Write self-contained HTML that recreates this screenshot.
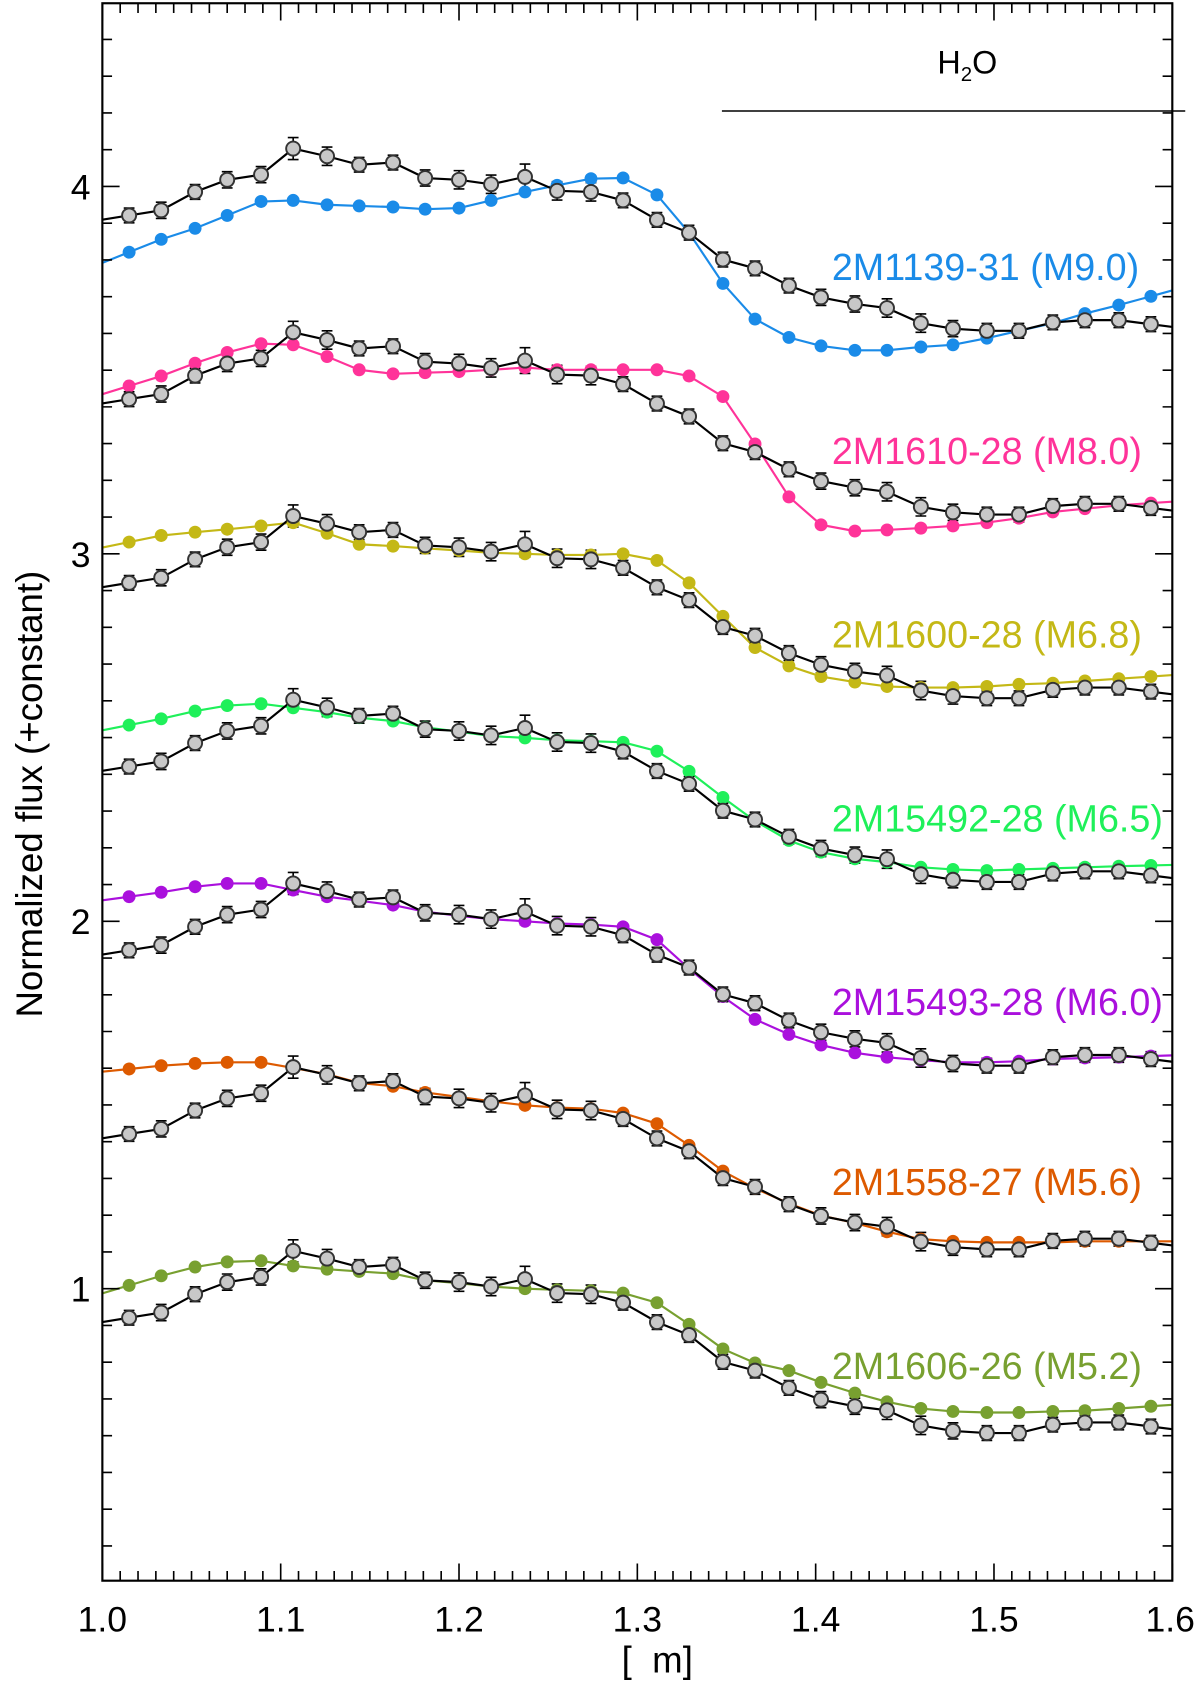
<!DOCTYPE html>
<html><head><meta charset="utf-8">
<style>
html,body{margin:0;padding:0;background:#fff;}
svg{display:block;font-family:"Liberation Sans",Arial,sans-serif;}
</style></head>
<body>
<svg id="chart" width="1200" height="1689" viewBox="0 0 1113.7 1567.5">
<g id="plot"></g>
</svg>
<script>
const wavelengths = [1.015,1.033,1.052,1.070,1.089,1.107,1.126,1.144,1.163,1.181,1.200,1.218,1.237,1.255,1.274,1.292,1.311,1.329,1.348,1.366,1.385,1.403,1.422,1.440,1.459,1.477,1.496,1.514,1.533,1.551,1.570,1.588];
const templateFlux = [3.921,3.935,3.985,4.018,4.032,4.103,4.082,4.059,4.065,4.023,4.018,4.006,4.026,3.988,3.985,3.962,3.909,3.874,3.801,3.777,3.730,3.698,3.680,3.669,3.628,3.613,3.607,3.607,3.630,3.636,3.636,3.625];
const templateErr = [0.02,0.022,0.02,0.022,0.022,0.03,0.025,0.02,0.02,0.022,0.025,0.025,0.035,0.025,0.025,0.02,0.02,0.02,0.02,0.02,0.02,0.022,0.022,0.025,0.025,0.022,0.02,0.02,0.02,0.02,0.02,0.02];
const templateOffsets = [0,0.5,1.0,1.5,2.0,2.5,3.0];
const names = ["2M1139-31 (M9.0)","2M1610-28 (M8.0)","2M1600-28 (M6.8)","2M15492-28 (M6.5)","2M15493-28 (M6.0)","2M1558-27 (M5.6)","2M1606-26 (M5.2)"];
const colors = ["#1a8be8","#ff3399","#c4b816","#1ff05a","#aa10dd","#dd5a00","#78a030"];
const labelValues = [3.78,3.28,2.78,2.28,1.78,1.29,0.79];
const fluxM90 = [3.821,3.856,3.886,3.921,3.959,3.962,3.950,3.947,3.944,3.938,3.941,3.962,3.985,4.003,4.021,4.023,3.977,3.874,3.736,3.639,3.589,3.566,3.554,3.554,3.563,3.569,3.587,3.607,3.628,3.654,3.677,3.701];
const fluxM80 = [3.457,3.484,3.519,3.548,3.572,3.569,3.537,3.501,3.490,3.493,3.496,3.501,3.507,3.501,3.501,3.501,3.501,3.484,3.428,3.299,3.155,3.079,3.062,3.065,3.070,3.076,3.085,3.097,3.114,3.123,3.132,3.138];
const fluxM68 = [3.032,3.050,3.059,3.067,3.076,3.085,3.056,3.026,3.021,3.015,3.009,3.003,3.000,2.997,2.997,3.000,2.982,2.921,2.830,2.745,2.695,2.666,2.651,2.639,2.636,2.636,2.639,2.645,2.648,2.654,2.660,2.666];
const fluxM65 = [2.534,2.551,2.572,2.587,2.592,2.581,2.569,2.554,2.545,2.528,2.516,2.504,2.499,2.493,2.490,2.487,2.463,2.408,2.337,2.273,2.220,2.188,2.170,2.161,2.147,2.141,2.138,2.141,2.144,2.147,2.150,2.152];
const fluxM60 = [2.067,2.079,2.094,2.103,2.103,2.085,2.067,2.056,2.044,2.026,2.015,2.006,2.000,1.994,1.991,1.985,1.950,1.871,1.795,1.733,1.692,1.663,1.642,1.630,1.622,1.616,1.616,1.619,1.625,1.628,1.630,1.633];
const fluxM56 = [1.598,1.607,1.613,1.616,1.616,1.601,1.584,1.560,1.551,1.534,1.522,1.510,1.499,1.493,1.490,1.478,1.449,1.390,1.320,1.273,1.232,1.199,1.179,1.155,1.135,1.129,1.126,1.126,1.126,1.129,1.129,1.129];
const fluxM52 = [1.009,1.035,1.059,1.073,1.076,1.062,1.053,1.047,1.041,1.023,1.015,1.006,1.000,0.997,0.994,0.988,0.962,0.903,0.836,0.798,0.777,0.745,0.716,0.692,0.674,0.666,0.663,0.663,0.666,0.668,0.674,0.680];
const yTicks = [1,2,3,4];
const xTicks = [1.0,1.1,1.2,1.3,1.4,1.5,1.6];

const X0=95,X1=1088,Y0=3,Y1=1467;
const xmin=1.0,xmax=1.6;
const sx=v=>X0+(v-xmin)/(xmax-xmin)*(X1-X0);
const sy=v=>1537-v*341;
const NS="http://www.w3.org/2000/svg";
const svg=document.getElementById('chart');
const plot=document.getElementById('plot');
function mk(tag,attrs,parent){const e=document.createElementNS(NS,tag);for(const k in attrs)e.setAttribute(k,attrs[k]);(parent||svg).appendChild(e);return e;}

const defs=mk('defs',{});
const cp=mk('clipPath',{id:'clip'},defs);
mk('rect',{x:X0,y:Y0,width:X1-X0,height:Y1-Y0},cp);
plot.setAttribute('clip-path','url(#clip)');

function pathFor(vals){
  const n=vals.length;
  const s0=(vals[1]-vals[0])/(wavelengths[1]-wavelengths[0]);
  const s1=(vals[n-1]-vals[n-2])/(wavelengths[n-1]-wavelengths[n-2]);
  let d='M'+sx(xmin)+','+sy(vals[0]+s0*(xmin-wavelengths[0]));
  for(let i=0;i<n;i++) d+=' L'+sx(wavelengths[i]).toFixed(1)+','+sy(vals[i]).toFixed(1);
  d+=' L'+sx(xmax)+','+sy(vals[n-1]+s1*(xmax-wavelengths[n-1]));
  return d;
}
const series=[fluxM90,fluxM80,fluxM68,fluxM65,fluxM60,fluxM56,fluxM52];
series.forEach((vals,k)=>{
  const g=mk('g',{},plot);
  
  
  const off=templateOffsets[k];
  const tv=templateFlux.map(v=>v-off);
  const cl=mk('path',{d:pathFor(vals),fill:'none',stroke:colors[k],'stroke-width':2},g);
  
  
  const tl=mk('path',{d:pathFor(tv),fill:'none',stroke:'#000','stroke-width':2},g);
  
  
  tv.forEach((v,i)=>{
    const x=sx(wavelengths[i]),e=templateErr[i];
    const eb=mk('path',{d:`M${x},${sy(v+e)} V${sy(v-e)} M${x-5},${sy(v+e)} H${x+5} M${x-5},${sy(v-e)} H${x+5}`,stroke:'#000','stroke-width':1.5,fill:'none'},g);
    
    
  });
  vals.forEach((v,i)=>{
    const c=mk('circle',{cx:sx(wavelengths[i]),cy:sy(v),r:6,fill:colors[k]},g);
    
    
  });
  tv.forEach((v,i)=>{
    const c=mk('circle',{cx:sx(wavelengths[i]),cy:sy(v),r:6.5,fill:'#c8c8c8',stroke:'#333','stroke-width':1.8},g);
    
    
  });
  const t=mk('text',{x:772,y:sy(labelValues[k])+12,'font-size':35,fill:colors[k]},g);
  t.textContent=names[k];
  
  
});

const box=mk('rect',{x:X0,y:Y0,width:X1-X0,height:Y1-Y0,fill:'none',stroke:'#000','stroke-width':2});


let td='';
for(let i=0;i<=60;i++){
  const x=sx(xmin+i*0.01),L=(i%10===0)?16:9;
  td+=`M${x},${Y1} V${Y1-L} M${x},${Y0} V${Y0+L} `;
}
for(let i=3;i<=45;i++){
  const v=i*0.1;const y=sy(v);
  if(y<Y0||y>Y1)continue;
  const L=(i%10===0)?16:9;
  td+=`M${X0},${y} H${X0+L} M${X1},${y} H${X1-L} `;
}
const ticks=mk('path',{d:td,stroke:'#000','stroke-width':1.5,fill:'none'});


yTicks.forEach(v=>{
  const t=mk('text',{x:84,y:sy(v)+12,'font-size':33,'text-anchor':'end'});
  t.textContent=String(v);
  
  
});
xTicks.forEach(v=>{
  const t=mk('text',{x:sx(v)+(v===1.6?-2:0),y:1514,'font-size':33,'text-anchor':'middle'});
  t.textContent=v.toFixed(1);
  
  
});
const xt=mk('text',{x:610,y:1552,'font-size':34,'text-anchor':'middle'});
xt.textContent='[  m]';xt.style.whiteSpace='pre';


const yt=mk('text',{x:0,y:0,'font-size':34,'text-anchor':'middle',transform:'translate(39,737) rotate(-90)'});
yt.textContent='Normalized flux (+constant)';


const hl=mk('line',{x1:670,y1:103,x2:1100,y2:103,stroke:'#000','stroke-width':1.5});


const ht=mk('text',{x:870,y:68,'font-size':30});
ht.innerHTML='H<tspan font-size="19" dy="7">2</tspan><tspan dy="-7">O</tspan>';


</script>
</body></html>
